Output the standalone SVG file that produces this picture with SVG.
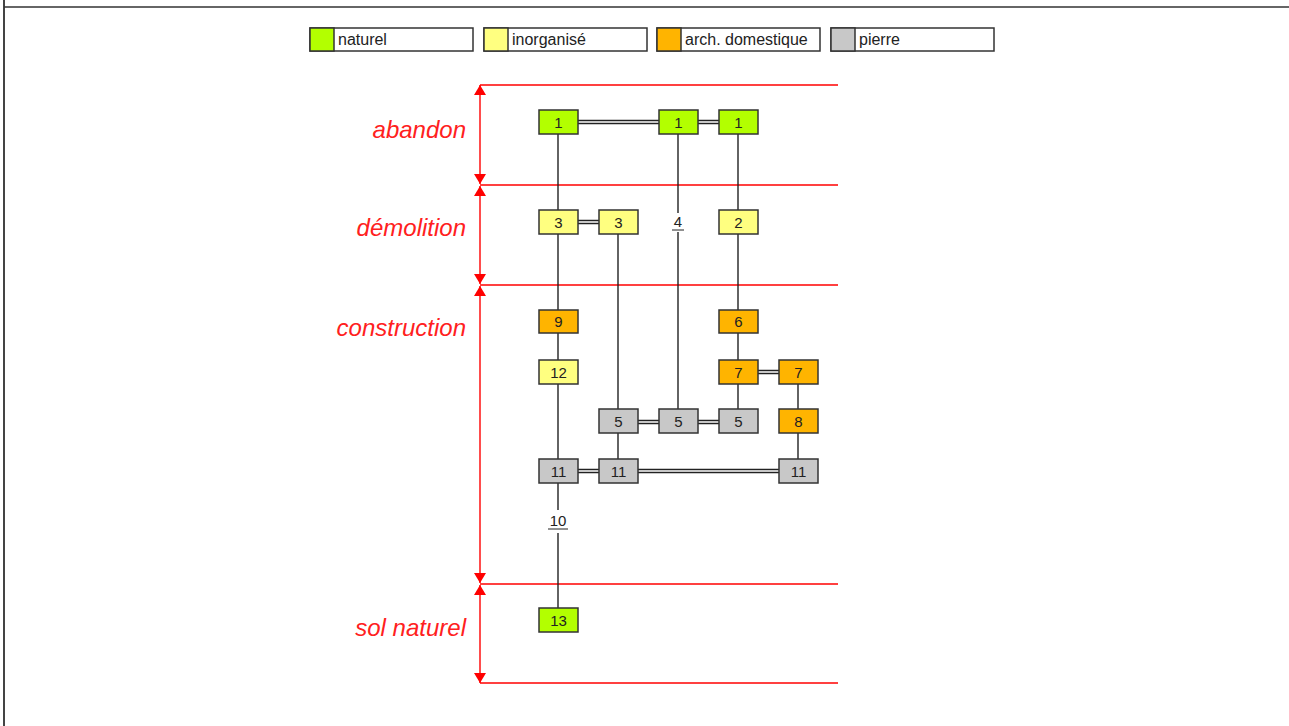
<svg xmlns="http://www.w3.org/2000/svg" width="1289" height="726" viewBox="0 0 1289 726">
<style>
.n rect{stroke:#333;stroke-width:1.5}
.n text{font-family:"Liberation Sans",Arial,sans-serif;font-size:15px;fill:#222;text-anchor:middle}
.nat{fill:#b3ff00}.ino{fill:#ffff80}.arc{fill:#ffb400}.pie{fill:#c8c8c8}
.lg rect{stroke:#333;stroke-width:1.5}
.lg text{font-family:"Liberation Sans",Arial,sans-serif;font-size:16px;fill:#222}
.ph{font-family:"Liberation Sans",Arial,sans-serif;font-size:24px;font-style:italic;fill:#ff2020;text-anchor:end}
.red{stroke:#ff0000;stroke-width:1.4;fill:none}
.e{stroke:#222;stroke-width:1.4;fill:none}
.lbl{font-family:"Liberation Sans",Arial,sans-serif;font-size:15px;fill:#222;text-anchor:middle}
</style>
<defs>
<marker id="ah" viewBox="0 0 10 12" refX="10" refY="6" markerWidth="10" markerHeight="12" markerUnits="userSpaceOnUse" orient="auto">
<path d="M0,0 L10,6 L0,12 z" fill="#ff0000"/>
</marker>
</defs>
<rect width="1289" height="726" fill="#fff"/>
<g id="frame">
<line x1="4" y1="0" x2="4" y2="726" stroke="#444" stroke-width="2"/>
<line x1="4" y1="7" x2="1289" y2="7" stroke="#333" stroke-width="1.6"/>
</g>
<g id="legend" class="lg">
<rect x="310" y="28" width="163" height="23" fill="#fff"/><rect x="310" y="28" width="24" height="23" class="nat"/><text x="338" y="45">naturel</text>
<rect x="484" y="28" width="163" height="23" fill="#fff"/><rect x="484" y="28" width="24" height="23" class="ino"/><text x="512" y="45">inorganisé</text>
<rect x="657" y="28" width="163" height="23" fill="#fff"/><rect x="657" y="28" width="24" height="23" class="arc"/><text x="685" y="45">arch. domestique</text>
<rect x="831" y="28" width="163" height="23" fill="#fff"/><rect x="831" y="28" width="24" height="23" class="pie"/><text x="859" y="45">pierre</text>
</g>
<g id="phases">
<line class="red" x1="480" y1="85" x2="838" y2="85"/>
<line class="red" x1="480" y1="185" x2="838" y2="185"/>
<line class="red" x1="480" y1="285" x2="838" y2="285"/>
<line class="red" x1="480" y1="584" x2="838" y2="584"/>
<line class="red" x1="480" y1="683" x2="838" y2="683"/>
<line class="red" x1="480" y1="134" x2="480" y2="85" marker-end="url(#ah)"/>
<line class="red" x1="480" y1="134" x2="480" y2="184" marker-end="url(#ah)"/>
<line class="red" x1="480" y1="235" x2="480" y2="186" marker-end="url(#ah)"/>
<line class="red" x1="480" y1="235" x2="480" y2="284" marker-end="url(#ah)"/>
<line class="red" x1="480" y1="434" x2="480" y2="286" marker-end="url(#ah)"/>
<line class="red" x1="480" y1="434" x2="480" y2="583" marker-end="url(#ah)"/>
<line class="red" x1="480" y1="634" x2="480" y2="585" marker-end="url(#ah)"/>
<line class="red" x1="480" y1="634" x2="480" y2="683" marker-end="url(#ah)"/>
<text class="ph" x="466" y="138">abandon</text>
<text class="ph" x="466" y="236">démolition</text>
<text class="ph" x="466" y="336">construction</text>
<text class="ph" x="466" y="636">sol naturel</text>
</g>
<g id="connectors">
<line class="e" x1="558" y1="134" x2="558" y2="210"/>
<line class="e" x1="678" y1="134" x2="678" y2="213"/>
<line class="e" x1="738" y1="134" x2="738" y2="210"/>
<path class="e" d="M578,120.5 H659 M578,123.5 H659"/>
<path class="e" d="M698,120.5 H719 M698,123.5 H719"/>
<path class="e" d="M578,220.5 H599 M578,223.5 H599"/>
<line class="e" x1="558" y1="234" x2="558" y2="310"/>
<line class="e" x1="618" y1="234" x2="618" y2="409"/>
<line class="e" x1="678" y1="232" x2="678" y2="409"/>
<line class="e" x1="738" y1="234" x2="738" y2="310"/>
<line class="e" x1="558" y1="333" x2="558" y2="360"/>
<line class="e" x1="738" y1="333" x2="738" y2="360"/>
<path class="e" d="M758,370.5 H779 M758,373.5 H779"/>
<line class="e" x1="798" y1="384" x2="798" y2="409"/>
<line class="e" x1="738" y1="384" x2="738" y2="409"/>
<path class="e" d="M638,420.5 H659 M638,423.5 H659"/>
<path class="e" d="M698,420.5 H719 M698,423.5 H719"/>
<line class="e" x1="558" y1="384" x2="558" y2="459"/>
<line class="e" x1="618" y1="433" x2="618" y2="459"/>
<line class="e" x1="798" y1="433" x2="798" y2="459"/>
<path class="e" d="M578,469.5 H599 M578,472.5 H599"/>
<path class="e" d="M638,469.5 H779 M638,472.5 H779"/>
<line class="e" x1="558" y1="483" x2="558" y2="510"/>
<line class="e" x1="558" y1="533" x2="558" y2="608"/>
</g>
<g id="n1a" class="n"><rect x="539" y="110" width="39" height="24" class="nat"/><text x="558.5" y="127.5">1</text></g>
<g id="n1b" class="n"><rect x="659" y="110" width="39" height="24" class="nat"/><text x="678.5" y="127.5">1</text></g>
<g id="n1c" class="n"><rect x="719" y="110" width="39" height="24" class="nat"/><text x="738.5" y="127.5">1</text></g>
<g id="n3a" class="n"><rect x="539" y="210" width="39" height="24" class="ino"/><text x="558.5" y="227.5">3</text></g>
<g id="n3b" class="n"><rect x="599" y="210" width="39" height="24" class="ino"/><text x="618.5" y="227.5">3</text></g>
<g id="n4"><text class="lbl" x="678" y="227">4</text><line x1="672" y1="230" x2="684" y2="230" stroke="#222" stroke-width="1"/></g>
<g id="n2" class="n"><rect x="719" y="210" width="39" height="24" class="ino"/><text x="738.5" y="227.5">2</text></g>
<g id="n9" class="n"><rect x="539" y="310" width="39" height="23" class="arc"/><text x="558.5" y="327">9</text></g>
<g id="n6" class="n"><rect x="719" y="310" width="39" height="23" class="arc"/><text x="738.5" y="327">6</text></g>
<g id="n12" class="n"><rect x="539" y="360" width="39" height="24" class="ino"/><text x="558.5" y="377.5">12</text></g>
<g id="n7a" class="n"><rect x="719" y="360" width="39" height="24" class="arc"/><text x="738.5" y="377.5">7</text></g>
<g id="n7b" class="n"><rect x="779" y="360" width="39" height="24" class="arc"/><text x="798.5" y="377.5">7</text></g>
<g id="n5a" class="n"><rect x="599" y="409" width="39" height="24" class="pie"/><text x="618.5" y="426.5">5</text></g>
<g id="n5b" class="n"><rect x="659" y="409" width="39" height="24" class="pie"/><text x="678.5" y="426.5">5</text></g>
<g id="n5c" class="n"><rect x="719" y="409" width="39" height="24" class="pie"/><text x="738.5" y="426.5">5</text></g>
<g id="n8" class="n"><rect x="779" y="409" width="39" height="24" class="arc"/><text x="798.5" y="426.5">8</text></g>
<g id="n11a" class="n"><rect x="539" y="459" width="39" height="24" class="pie"/><text x="558.5" y="476.5">11</text></g>
<g id="n11b" class="n"><rect x="599" y="459" width="39" height="24" class="pie"/><text x="618.5" y="476.5">11</text></g>
<g id="n11c" class="n"><rect x="779" y="459" width="39" height="24" class="pie"/><text x="798.5" y="476.5">11</text></g>
<g id="n10"><text class="lbl" x="558" y="526">10</text><line x1="548" y1="529" x2="568" y2="529" stroke="#222" stroke-width="1"/></g>
<g id="n13" class="n"><rect x="539" y="608" width="39" height="24" class="nat"/><text x="558.5" y="625.5">13</text></g>
</svg>
